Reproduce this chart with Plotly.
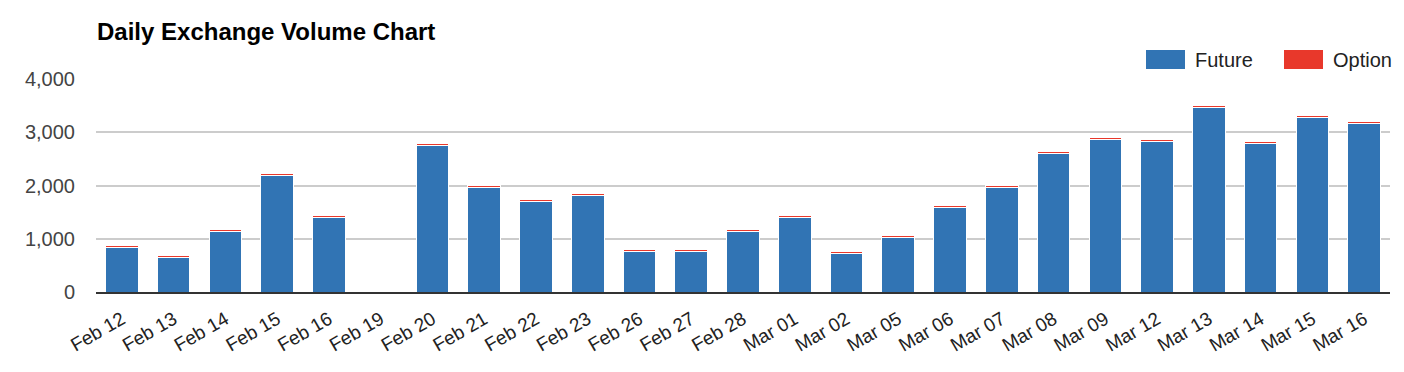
import plotly.graph_objects as go

dates = ["Feb 12", "Feb 13", "Feb 14", "Feb 15", "Feb 16", "Feb 19", "Feb 20", "Feb 21",
         "Feb 22", "Feb 23", "Feb 26", "Feb 27", "Feb 28", "Mar 01", "Mar 02", "Mar 05",
         "Mar 06", "Mar 07", "Mar 08", "Mar 09", "Mar 12", "Mar 13", "Mar 14", "Mar 15", "Mar 16"]
future = [830, 640, 1130, 2180, 1390, 0, 2750, 1960,
          1700, 1810, 760, 760, 1140, 1400, 730, 1030,
          1590, 1960, 2600, 2860, 2830, 3470, 2790, 3280, 3170]
option = [40, 40, 40, 40, 40, 0, 40, 40,
          40, 40, 40, 40, 40, 40, 40, 40,
          40, 40, 40, 40, 40, 40, 40, 40, 40]
ytick_vals = [0, 1000, 2000, 3000, 4000]

BLUE = "#3174b4"
RED = "#e8382b"
FONT = "Arial, Liberation Sans, sans-serif"

# page has an 8px body margin; margins below compensate so the plot area
# lands at x 96..1390, y 79..292 in the window
ML, MR, MT, MB = 88, 22, 71, 88
W, H = 1404, 372

fig = go.Figure()
fig.add_trace(go.Bar(x=dates, y=future, name="Future",
                     marker=dict(color=BLUE, line=dict(color="white", width=1))))
fig.add_trace(go.Bar(x=dates, y=option, name="Option",
                     marker=dict(color=RED, line=dict(color="white", width=1))))

fig.update_layout(
    barmode="stack",
    bargap=0.37,
    width=W, height=H,
    margin=dict(l=ML, r=MR, t=MT, b=MB),
    plot_bgcolor="white", paper_bgcolor="white",
    showlegend=False,
    font=dict(family=FONT, color="#222"),
    xaxis=dict(showline=True, linecolor="#333", linewidth=2, tickangle=-30,
               tickfont=dict(size=19, color="#222"), ticks="", showgrid=False,
               ticklabelstandoff=7),
    yaxis=dict(range=[0, 4000], tickvals=ytick_vals, tickformat=",", showgrid=True,
               gridcolor="#cccccc", gridwidth=2, zeroline=False,
               tickfont=dict(size=20, color="#444"), ticks="", ticklabelstandoff=20),
)

pw = W - ML - MR
ph = H - MT - MB


def px_x(px):
    return (px - 8 - ML) / pw


def px_y(py):
    return (H - MB + 8 - py) / ph


fig.add_annotation(text="<b>Daily Exchange Volume Chart</b>", xref="paper", yref="paper",
                   x=px_x(95), y=px_y(32), xanchor="left", yanchor="middle",
                   showarrow=False, font=dict(size=24, color="#000", family=FONT))

legend_items = [("Future", BLUE, 1146), ("Option", RED, 1284)]
for name, col, px in legend_items:
    fig.add_shape(type="rect", xref="paper", yref="paper",
                  x0=px_x(px), x1=px_x(px + 39), y0=px_y(69), y1=px_y(50),
                  fillcolor=col, line=dict(width=0))
    fig.add_annotation(text=name, xref="paper", yref="paper", x=px_x(px + 47),
                       y=px_y(60), xanchor="left", yanchor="middle", showarrow=False,
                       font=dict(size=20, color="#222", family=FONT))

fig.write_html("out.html")
